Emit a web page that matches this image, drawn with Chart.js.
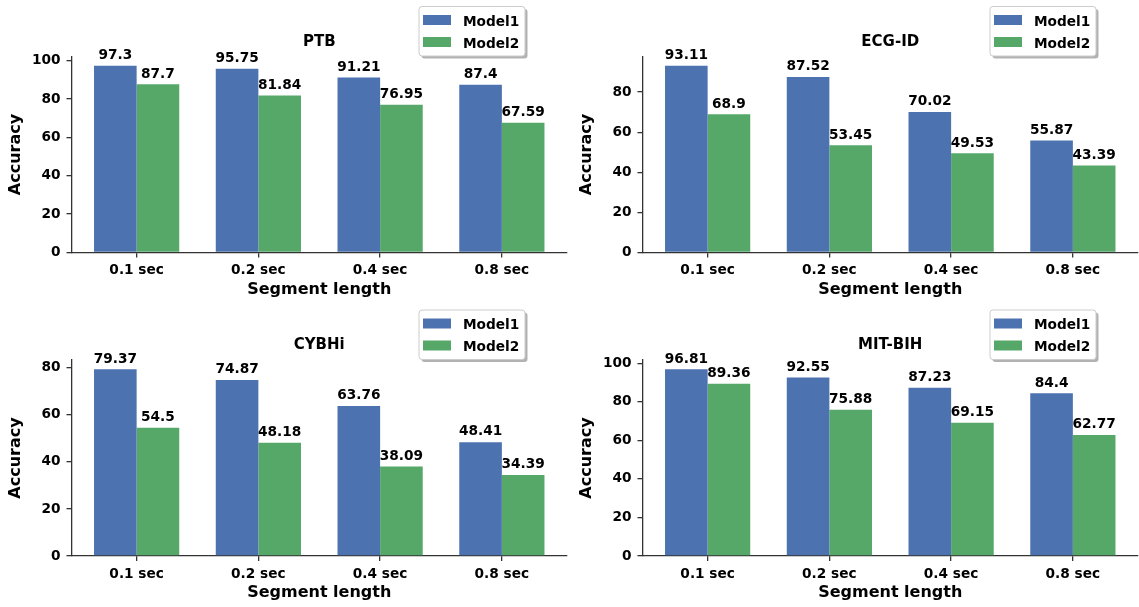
<!DOCTYPE html>
<html>
<head>
<meta charset="utf-8">
<script src="https://cdn.jsdelivr.net/npm/chart.js@4.4.1/dist/chart.umd.min.js"></script>
<style>
  html, body { margin: 0; padding: 0; background: #ffffff; }
  #wrap { position: relative; width: 1139px; height: 607px; overflow: hidden; background: #ffffff; }
  canvas { position: absolute; left: 0; top: 0; }
</style>
</head>
<body>
<div id="wrap"></div>
<script>
// ---------------- data ----------------
const categories = ['0.1 sec', '0.2 sec', '0.4 sec', '0.8 sec'];
const seriesNames = ['Model1', 'Model2'];

const ptbModel1 = [97.3, 95.75, 91.21, 87.4];
const ptbModel2 = [87.7, 81.84, 76.95, 67.59];
const ecgModel1 = [93.11, 87.52, 70.02, 55.87];
const ecgModel2 = [68.9, 53.45, 49.53, 43.39];
const cybModel1 = [79.37, 74.87, 63.76, 48.41];
const cybModel2 = [54.5, 48.18, 38.09, 34.39];
const mitModel1 = [96.81, 92.55, 87.23, 84.4];
const mitModel2 = [89.36, 75.88, 69.15, 62.77];

const yTicksPTB = [0, 20, 40, 60, 80, 100];
const yTicksECG = [0, 20, 40, 60, 80];
const yTicksCYB = [0, 20, 40, 60, 80];
const yTicksMIT = [0, 20, 40, 60, 80, 100];

const xAxisTitle = 'Segment length';
const yAxisTitle = 'Accuracy';

// ---------------- style ----------------
const FONT = '"DejaVu Sans", "Liberation Sans", sans-serif';
const COLORS = ['#4C72B0', '#55A868'];
const SPINE = '#333333';
const W = 1139, H = 607;
const AX_W = 495.5, AX_H = 196;

const panels = [
  { title: 'PTB',     m1: ptbModel1, m2: ptbModel2, yTicks: yTicksPTB, L: 71.5,  T: 56.5 },
  { title: 'ECG-ID',  m1: ecgModel1, m2: ecgModel2, yTicks: yTicksECG, L: 642.5, T: 56.5 },
  { title: 'CYBHi',   m1: cybModel1, m2: cybModel2, yTicks: yTicksCYB, L: 71.5,  T: 360 },
  { title: 'MIT-BIH', m1: mitModel1, m2: mitModel2, yTicks: yTicksMIT, L: 642.5, T: 360 }
];

const Y_SCALE_W = 60, X_SCALE_H = 40;

function decorPlugin(panel) {
  return {
    id: 'decor',
    afterDraw(chart) {
      const ctx = chart.ctx;
      const ca = chart.chartArea;
      const cx = (ca.left + ca.right) / 2;
      const cy = (ca.top + ca.bottom) / 2;
      ctx.save();
      ctx.fillStyle = '#000';
      // title
      ctx.font = 'bold 15px ' + FONT;
      ctx.textAlign = 'center';
      ctx.textBaseline = 'alphabetic';
      ctx.fillText(panel.title, cx, ca.top - 10.8);
      // x axis title
      ctx.font = 'bold 16px ' + FONT;
      ctx.fillText(xAxisTitle, cx, ca.bottom + 41);
      // y axis title
      ctx.save();
      ctx.translate(ca.left - 51.5, cy);
      ctx.rotate(-Math.PI / 2);
      ctx.textAlign = 'center';
      ctx.textBaseline = 'alphabetic';
      ctx.fillText(yAxisTitle, 0, 0);
      ctx.restore();
      // value labels
      ctx.font = 'bold 13.7px ' + FONT;
      ctx.textAlign = 'center';
      chart.data.datasets.forEach((ds, di) => {
        const meta = chart.getDatasetMeta(di);
        meta.data.forEach((bar, j) => {
          const v = ds.data[j].y;
          ctx.fillText(String(v), bar.x, bar.y - 6.7);
        });
      });
      // legend
      const bx = ca.left + 347.5, by = ca.top - 50, bw = 106, bh = 49.5, r = 3;
      function rr(x, y, w, h) {
        ctx.beginPath();
        ctx.moveTo(x + r, y);
        ctx.lineTo(x + w - r, y);
        ctx.quadraticCurveTo(x + w, y, x + w, y + r);
        ctx.lineTo(x + w, y + h - r);
        ctx.quadraticCurveTo(x + w, y + h, x + w - r, y + h);
        ctx.lineTo(x + r, y + h);
        ctx.quadraticCurveTo(x, y + h, x, y + h - r);
        ctx.lineTo(x, y + r);
        ctx.quadraticCurveTo(x, y, x + r, y);
        ctx.closePath();
      }
      ctx.fillStyle = 'rgba(0,0,0,0.3)';
      rr(bx + 2.5, by + 2.5, bw, bh);
      ctx.fill();
      ctx.fillStyle = '#ffffff';
      rr(bx, by, bw, bh);
      ctx.fill();
      ctx.strokeStyle = '#cccccc';
      ctx.lineWidth = 1;
      ctx.stroke();
      ctx.font = 'bold 13.7px ' + FONT;
      ctx.textAlign = 'left';
      ctx.textBaseline = 'alphabetic';
      const rowsY = [by + 13.5, by + 35.5];
      seriesNames.forEach((name, i) => {
        ctx.fillStyle = COLORS[i];
        ctx.fillRect(bx + 4, rowsY[i] - 5, 28, 10);
        ctx.fillStyle = '#000';
        ctx.fillText(name, bx + 44, rowsY[i] + 5.5);
      });
      ctx.restore();
    }
  };
}

const wrap = document.getElementById('wrap');
panels.forEach(panel => {
  const canvas = document.createElement('canvas');
  canvas.width = W;
  canvas.height = H;
  canvas.style.width = W + 'px';
  canvas.style.height = H + 'px';
  wrap.appendChild(canvas);
  const ymax = Math.max(...panel.m1, ...panel.m2) * 1.05;
  const datasets = [panel.m1, panel.m2].map((vals, i) => ({
    label: seriesNames[i],
    data: vals.map((v, j) => ({ x: j, y: v })),
    backgroundColor: COLORS[i],
    borderWidth: 0,
    categoryPercentage: 0.7,
    barPercentage: 1.0
  }));
  new Chart(canvas, {
    type: 'bar',
    data: { datasets },
    options: {
      responsive: false,
      animation: false,
      devicePixelRatio: 1,
      layout: {
        padding: {
          left: panel.L - Y_SCALE_W,
          top: panel.T,
          right: W - (panel.L + AX_W),
          bottom: H - (panel.T + AX_H) - X_SCALE_H
        }
      },
      plugins: { legend: { display: false }, title: { display: false }, tooltip: { enabled: false } },
      scales: {
        x: {
          type: 'linear',
          min: -0.535,
          max: 3.535,
          offset: false,
          grid: { offset: false, drawOnChartArea: false, drawTicks: true, tickLength: 5, color: SPINE, lineWidth: 1.3 },
          border: { display: true, color: SPINE, width: 1.3 },
          ticks: {
            color: '#000',
            font: { family: FONT, size: 13.7, weight: 'bold' },
            padding: 5,
            maxRotation: 0,
            autoSkip: false,
            callback: (v) => categories[v]
          },
          afterBuildTicks: (s) => { s.ticks = categories.map((c, i) => ({ value: i })); },
          afterFit: (s) => { s.height = X_SCALE_H; }
        },
        y: {
          type: 'linear',
          min: 0,
          max: ymax,
          grid: { drawOnChartArea: false, drawTicks: true, tickLength: 5, color: SPINE, lineWidth: 1.3 },
          border: { display: true, color: SPINE, width: 1.3 },
          ticks: {
            color: '#000',
            font: { family: FONT, size: 13.7, weight: 'bold' },
            padding: 6
          },
          afterBuildTicks: (s) => { s.ticks = panel.yTicks.map(v => ({ value: v })); },
          afterFit: (s) => { s.width = Y_SCALE_W; }
        }
      }
    },
    plugins: [decorPlugin(panel)]
  });
});
</script>
</body>
</html>
